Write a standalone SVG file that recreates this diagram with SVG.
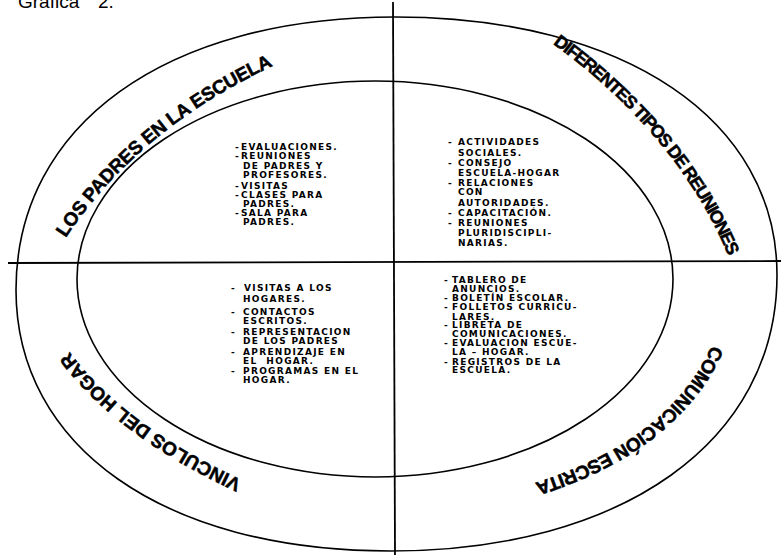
<svg xmlns="http://www.w3.org/2000/svg" width="782" height="555" viewBox="0 0 782 555">
<style>
.ln{fill:none;stroke:#000;stroke-width:1.6}
.ax{fill:none;stroke:#000;stroke-width:1.8}
.it{font-family:"DejaVu Sans",sans-serif;font-weight:bold;font-size:9px;letter-spacing:1.3px;fill:#000}
.lb{font-family:"Liberation Sans",Arial,sans-serif;font-weight:bold;fill:#000;stroke:#000;stroke-width:0.5}
.ti{font-family:"Liberation Sans",Arial,sans-serif;font-size:19px;fill:#000}
</style>
<defs>
<path id="p1" d="M 66,238 C 105,178 172,110 290,58"/>
<path id="p2" d="M 553,44 C 614,88 690,160 730,260"/>
<path id="p3" d="M 712,345 C 683,410 622,455 538,482"/>
<path id="p4" d="M 242,480 C 160,442 95,395 56,332"/>
</defs>
<rect width="782" height="555" fill="#fff"/>
<text class="ti" x="18" y="8">Grafica <tspan x="98">2.</tspan></text>
<g id="connectors">
<path class="ln" d="M 395,17 C 625,17 777,120 777,275 C 777,441 623,551 390,551 C 163,551 16,446 16,290 C 16,125 166,17 395,17 Z"/>
<ellipse class="ln" cx="375" cy="279" rx="298" ry="198"/>
<line class="ax" x1="8" y1="263" x2="781" y2="261"/>
<line class="ax" x1="393" y1="2" x2="395" y2="555"/>
</g>
<g id="padres-escuela">
<text class="lb" font-size="19" letter-spacing="-0.3"><textPath href="#p1">LOS PADRES EN LA ESCUELA</textPath></text>
<text class="it" y="150.3"><tspan x="235">- </tspan><tspan x="241">EVALUACIONES.</tspan></text>
<text class="it" y="159.3"><tspan x="235">- </tspan><tspan x="241">REUNIONES</tspan></text>
<text class="it" x="243" y="168.8">DE PADRES Y</text>
<text class="it" x="243" y="178.3">PROFESORES.</text>
<text class="it" y="189.3"><tspan x="235">- </tspan><tspan x="241">VISITAS</tspan></text>
<text class="it" y="198.3"><tspan x="235">- </tspan><tspan x="241">CLASES PARA</tspan></text>
<text class="it" x="243" y="207.3">PADRES.</text>
<text class="it" y="216.3"><tspan x="235">- </tspan><tspan x="241">SALA PARA</tspan></text>
<text class="it" x="243" y="225.3">PADRES.</text>
</g>
<g id="tipos-reuniones">
<text class="lb" font-size="18" letter-spacing="-1.3"><textPath href="#p2">DIFERENTES TIPOS DE REUNIONES</textPath></text>
<text class="it" y="144.5"><tspan x="448">- </tspan><tspan x="458">ACTIVIDADES</tspan></text>
<text class="it" x="458" y="155.5">SOCIALES.</text>
<text class="it" y="165.5"><tspan x="448">- </tspan><tspan x="458">CONSEJO</tspan></text>
<text class="it" x="458" y="175.5">ESCUELA-HOGAR</text>
<text class="it" y="185.5"><tspan x="448">- </tspan><tspan x="458">RELACIONES</tspan></text>
<text class="it" x="458" y="195">CON</text>
<text class="it" x="458" y="205.5">AUTORIDADES.</text>
<text class="it" y="215.5"><tspan x="448">- </tspan><tspan x="458">CAPACITACIÓN.</tspan></text>
<text class="it" y="225.5"><tspan x="448">- </tspan><tspan x="458">REUNIONES</tspan></text>
<text class="it" x="458" y="235.5">PLURIDISCIPLI-</text>
<text class="it" x="458" y="245.5">NARIAS.</text>
</g>
<g id="vinculos-hogar">
<text class="lb" font-size="19" letter-spacing="0"><textPath href="#p4">VINCULOS DEL HOGAR</textPath></text>
<text class="it" y="291.3"><tspan x="231">- </tspan><tspan x="244">VISITAS A LOS</tspan></text>
<text class="it" x="243" y="302.3">HOGARES.</text>
<text class="it" y="315.3"><tspan x="231">- </tspan><tspan x="243">CONTACTOS</tspan></text>
<text class="it" x="243" y="324.3">ESCRITOS.</text>
<text class="it" y="335.3"><tspan x="231">- </tspan><tspan x="243">REPRESENTACION</tspan></text>
<text class="it" x="243" y="344.3">DE LOS PADRES</text>
<text class="it" y="355.3"><tspan x="231">- </tspan><tspan x="243">APRENDIZAJE EN</tspan></text>
<text class="it" x="243" y="364.3" xml:space="preserve">EL  HOGAR.</text>
<text class="it" y="374.3"><tspan x="231">- </tspan><tspan x="243">PROGRAMAS EN EL</tspan></text>
<text class="it" x="243" y="383.3">HOGAR.</text>
</g>
<g id="comunicacion-escrita">
<text class="lb" font-size="19" letter-spacing="-0.4"><textPath href="#p3">COMUNICACIÓN ESCRITA</textPath></text>
<text class="it" y="283.3"><tspan x="444">- </tspan><tspan x="452">TABLERO DE</tspan></text>
<text class="it" x="452" y="292.3">ANUNCIOS.</text>
<text class="it" y="301.3"><tspan x="444">- </tspan><tspan x="452">BOLETÍN ESCOLAR.</tspan></text>
<text class="it" y="310.3"><tspan x="444">- </tspan><tspan x="452">FOLLETOS CURRICU-</tspan></text>
<text class="it" x="452" y="320.3">LARES.</text>
<text class="it" y="328.3"><tspan x="444">- </tspan><tspan x="452">LIBRETA DE</tspan></text>
<text class="it" x="452" y="337.3">COMUNICACIONES.</text>
<text class="it" y="346.3"><tspan x="444">- </tspan><tspan x="452">EVALUACION ESCUE-</tspan></text>
<text class="it" x="452" y="355.3">LA – HOGAR.</text>
<text class="it" y="365.3"><tspan x="444">- </tspan><tspan x="452">REGISTROS DE LA</tspan></text>
<text class="it" x="452" y="373.3">ESCUELA.</text>
</g>
</svg>
